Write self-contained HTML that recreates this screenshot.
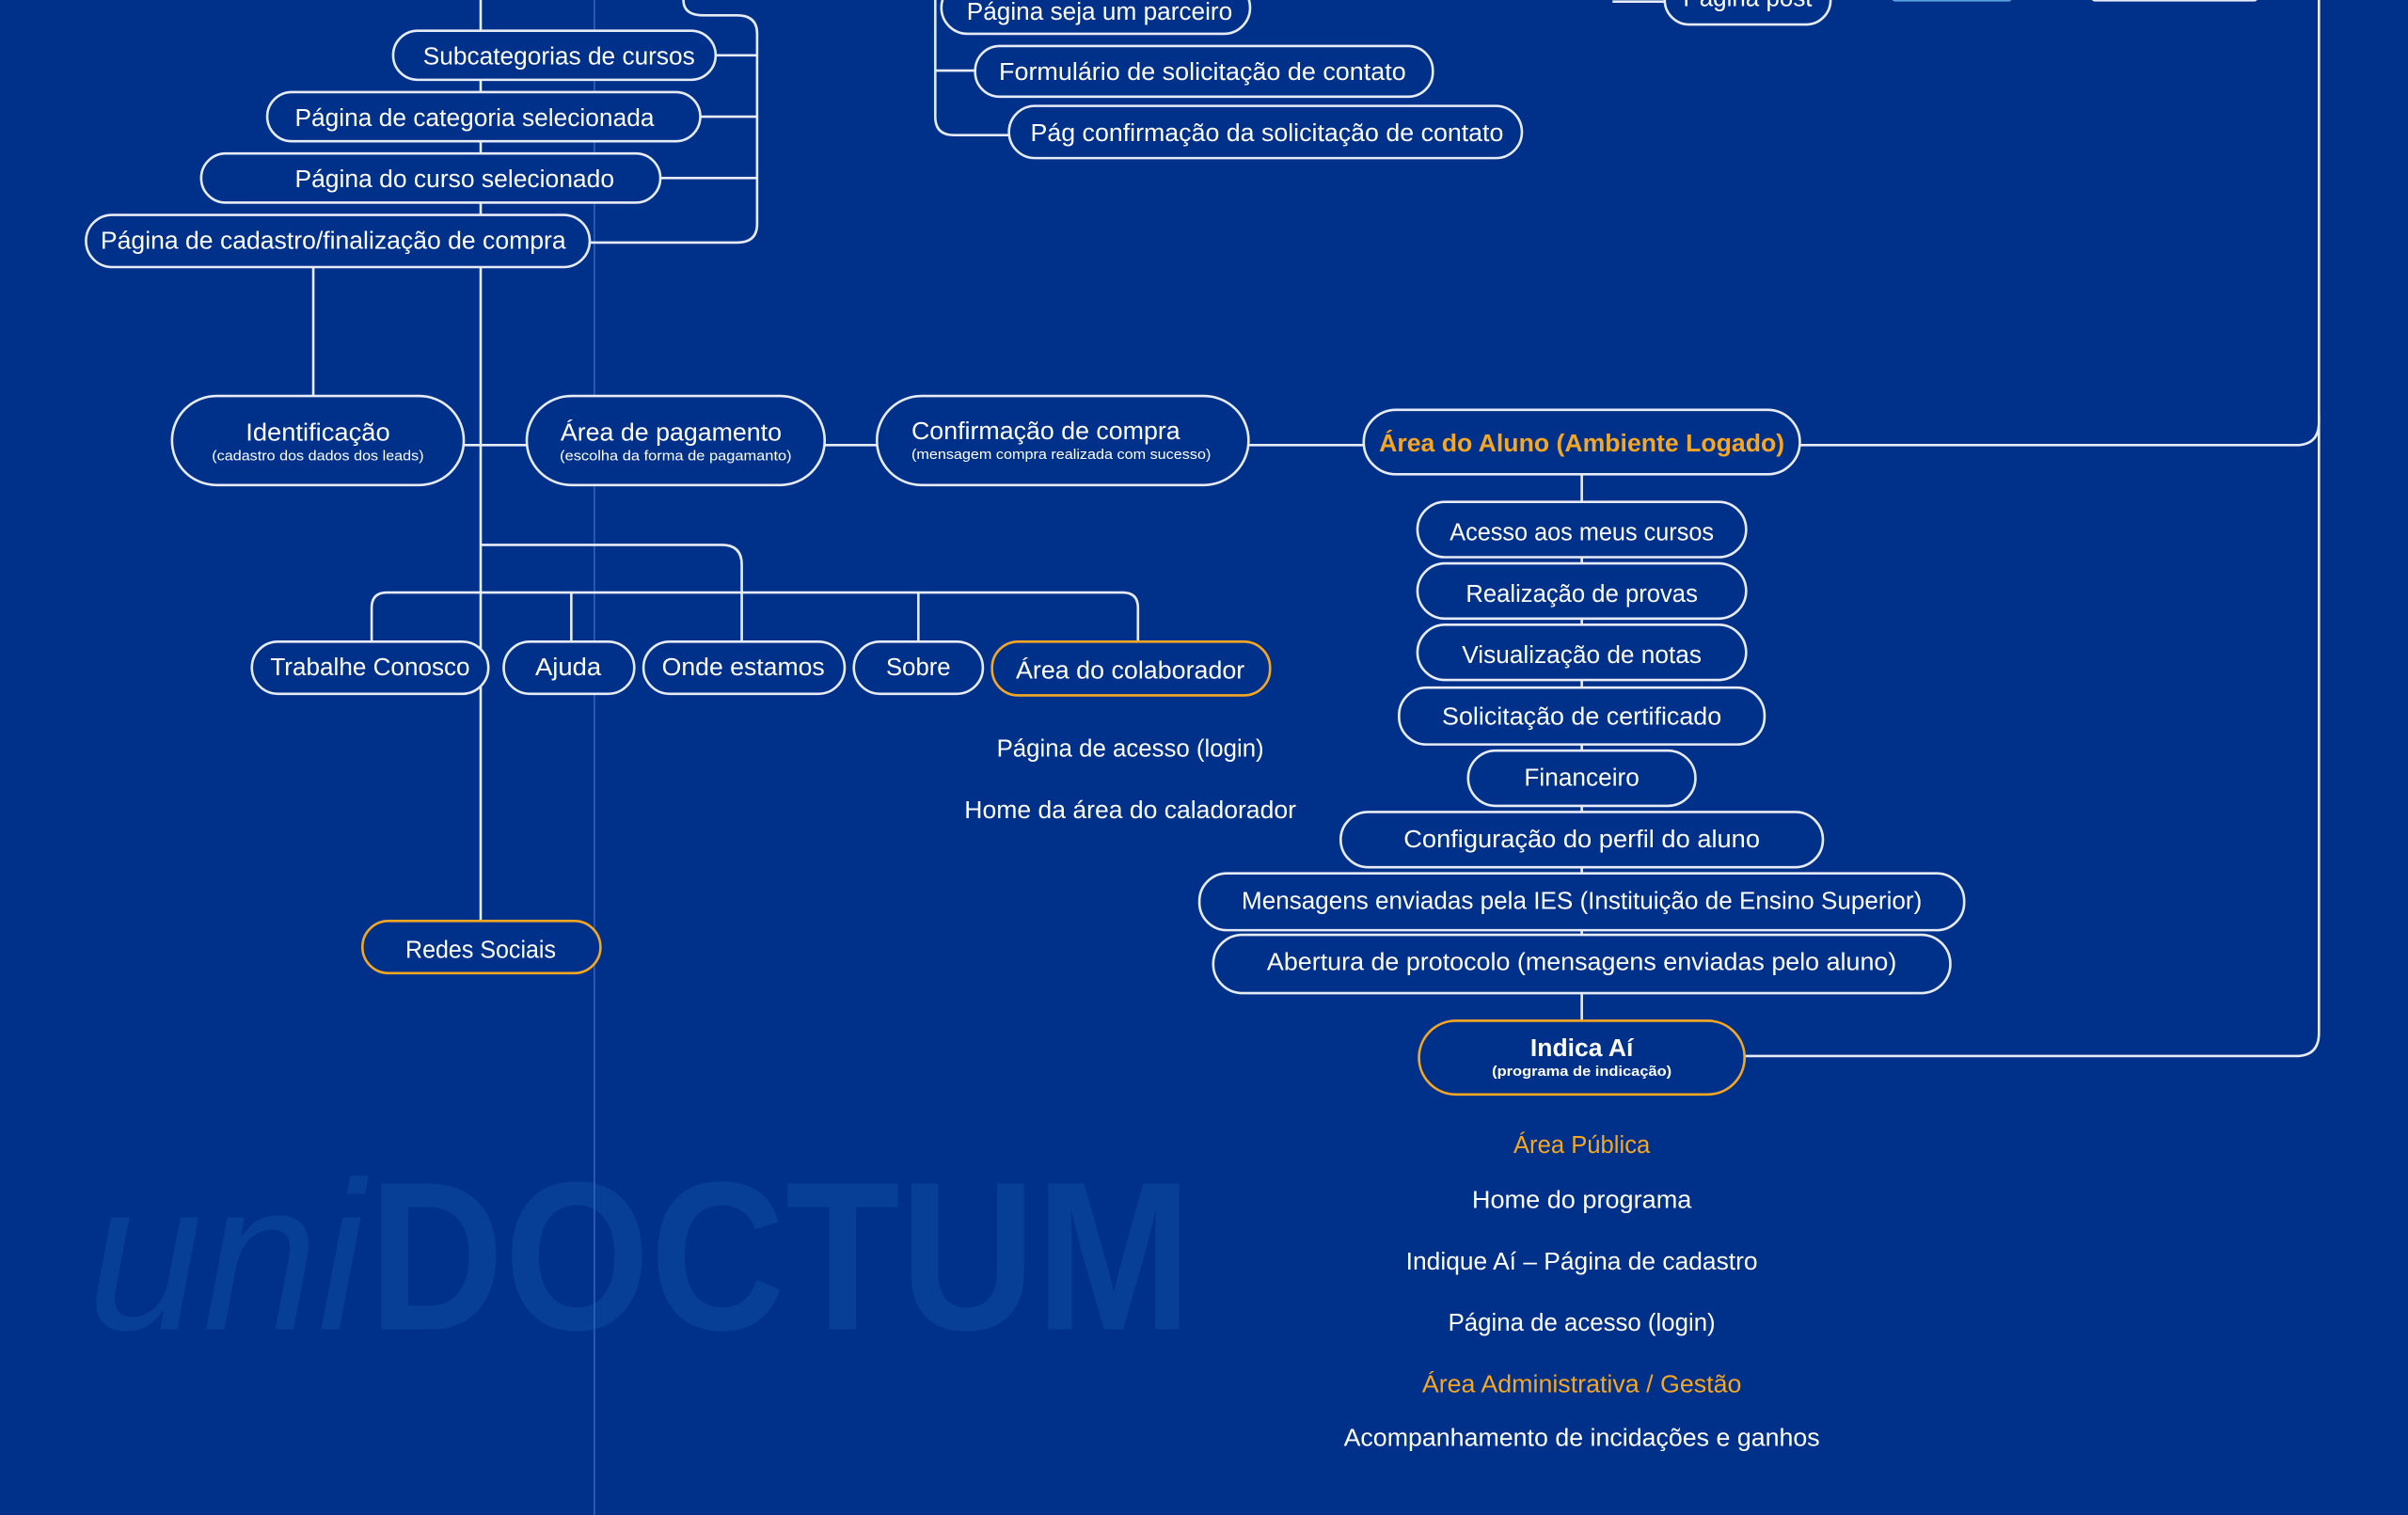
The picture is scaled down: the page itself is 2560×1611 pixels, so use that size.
<!DOCTYPE html>
<html><head><meta charset="utf-8"><style>
html,body{margin:0;padding:0;background:#00318a;}
svg{display:block}
text{font-family:"Liberation Sans",sans-serif;fill:#fff}
</style></head><body>
<svg width="2560" height="1611" viewBox="0 0 1568 987" preserveAspectRatio="none" xmlns="http://www.w3.org/2000/svg">
<rect width="1568" height="987" fill="#00318a"/>
<!-- watermark -->
<text x="57" y="866" font-size="138" font-style="italic" style="fill:#063f95" textLength="180" lengthAdjust="spacingAndGlyphs">uni</text>
<text x="240" y="866" font-size="138" font-weight="bold" style="fill:#063f95" textLength="536" lengthAdjust="spacingAndGlyphs">DOCTUM</text>
<line x1="387" y1="0" x2="387" y2="987" stroke="#2a62b8" stroke-width="1"/>
<g fill="none" stroke="#e6ebf5" stroke-width="1.6">
<!-- left trunk -->
<line x1="313" y1="0" x2="313" y2="600"/>
<path d="M445 0 Q445 10 458 10 L480 10 Q493 10 493 22 L493 146 Q493 158 480 158 L384 158"/>
<line x1="466" y1="36" x2="493" y2="36"/>
<line x1="456" y1="76" x2="493" y2="76"/>
<line x1="430" y1="116" x2="493" y2="116"/>
<line x1="204" y1="174" x2="204" y2="258"/>
<line x1="302" y1="290" x2="343" y2="290"/>
<line x1="537" y1="290" x2="571" y2="290"/>
<line x1="813" y1="290" x2="888" y2="290"/>
<path d="M1172 290 L1495 290 Q1510 290 1510 275 L1510 0"/>
<path d="M1510 270 L1510 673 Q1510 688 1495 688 L1136 688"/>
<path d="M313 355 L470 355 Q483 355 483 368 L483 418"/>
<path d="M242 418 L242 396 Q242 386 252 386 L731 386 Q741 386 741 396 L741 418"/>
<line x1="372" y1="386" x2="372" y2="418"/>
<line x1="598" y1="386" x2="598" y2="418"/>
<!-- right trunk -->
<line x1="1030" y1="309" x2="1030" y2="665"/>
<!-- top middle -->
<path d="M609 0 L609 76 Q609 88 621 88 L657 88"/>
<line x1="609" y1="46" x2="635" y2="46"/>
<line x1="1050" y1="1" x2="1084" y2="1"/>
</g>
<rect x="1232" y="-4" width="78" height="5" rx="2" fill="#5aa0e0"/>
<rect x="1362" y="-4" width="108" height="5" rx="2" fill="#e6ebf5"/>
<g fill="#00318a" stroke="#e6ebf5" stroke-width="1.6">
<rect x="256" y="20" width="210" height="32" rx="16"/>
<rect x="174" y="60" width="282" height="32" rx="16"/>
<rect x="131" y="100" width="299" height="32" rx="16"/>
<rect x="56" y="140" width="328" height="34" rx="17"/>
<rect x="112" y="258" width="190" height="58" rx="29"/>
<rect x="343" y="258" width="194" height="58" rx="29"/>
<rect x="571" y="258" width="242" height="58" rx="29"/>
<rect x="888" y="267" width="284" height="42" rx="21"/>
<rect x="164" y="418" width="154" height="34" rx="17"/>
<rect x="328" y="418" width="85" height="34" rx="17"/>
<rect x="419" y="418" width="131" height="34" rx="17"/>
<rect x="556" y="418" width="84" height="34" rx="17"/>
<rect x="646" y="418" width="181" height="35" rx="17" stroke="#f5a623"/>
<rect x="236" y="600" width="155" height="34" rx="17" stroke="#f5a623"/>
<rect x="613" y="-12" width="201" height="34" rx="17"/>
<rect x="635" y="30" width="298" height="33" rx="16"/>
<rect x="657" y="69" width="334" height="34" rx="17"/>
<rect x="1084" y="-16" width="108" height="32" rx="16"/>
<rect x="923" y="327" width="214" height="36" rx="18"/>
<rect x="923" y="367" width="214" height="36" rx="18"/>
<rect x="923" y="407" width="214" height="36" rx="18"/>
<rect x="911" y="448" width="238" height="37" rx="18"/>
<rect x="956" y="489" width="148" height="36" rx="18"/>
<rect x="873" y="529" width="314" height="36" rx="18"/>
<rect x="781" y="569" width="498" height="37" rx="18"/>
<rect x="790" y="609" width="480" height="38" rx="19"/>
<rect x="924" y="665" width="212" height="48" rx="24" stroke="#f5a623"/>
</g>
<g font-size="16" text-anchor="middle">
<text x="364" y="42" textLength="177" lengthAdjust="spacingAndGlyphs">Subcategorias de cursos</text>
<text x="309" y="82" textLength="234" lengthAdjust="spacingAndGlyphs">Página de categoria selecionada</text>
<text x="296" y="122" textLength="208" lengthAdjust="spacingAndGlyphs">Página do curso selecionado</text>
<text x="217" y="162" textLength="303" lengthAdjust="spacingAndGlyphs">Página de cadastro/finalização de compra</text>
<text x="207" y="287" textLength="94" lengthAdjust="spacingAndGlyphs">Identificação</text>
<text x="207" y="300" font-size="9" textLength="138" lengthAdjust="spacingAndGlyphs">(cadastro dos dados dos leads)</text>
<text x="437" y="287" textLength="144" lengthAdjust="spacingAndGlyphs">Área de pagamento</text>
<text x="440" y="300" font-size="9" textLength="151" lengthAdjust="spacingAndGlyphs">(escolha da forma de pagamanto)</text>
<text x="681" y="286" textLength="175" lengthAdjust="spacingAndGlyphs">Confirmação de compra</text>
<text x="691" y="299" font-size="9" textLength="195" lengthAdjust="spacingAndGlyphs">(mensagem compra realizada com sucesso)</text>
<text x="1030" y="294" font-weight="bold" style="fill:#f5a623" textLength="264" lengthAdjust="spacingAndGlyphs">Área do Aluno (Ambiente Logado)</text>
<text x="241" y="440" textLength="130" lengthAdjust="spacingAndGlyphs">Trabalhe Conosco</text>
<text x="370" y="440" textLength="43" lengthAdjust="spacingAndGlyphs">Ajuda</text>
<text x="484" y="440" textLength="106" lengthAdjust="spacingAndGlyphs">Onde estamos</text>
<text x="598" y="440" textLength="42" lengthAdjust="spacingAndGlyphs">Sobre</text>
<text x="736" y="442" textLength="149" lengthAdjust="spacingAndGlyphs">Área do colaborador</text>
<text x="736" y="493" textLength="174" lengthAdjust="spacingAndGlyphs">Página de acesso (login)</text>
<text x="736" y="533" textLength="216" lengthAdjust="spacingAndGlyphs">Home da área do caladorador</text>
<text x="313" y="624" textLength="98" lengthAdjust="spacingAndGlyphs">Redes Sociais</text>
<text x="716" y="13" textLength="173" lengthAdjust="spacingAndGlyphs">Página seja um parceiro</text>
<text x="783" y="52" textLength="265" lengthAdjust="spacingAndGlyphs">Formulário de solicitação de contato</text>
<text x="825" y="92" textLength="308" lengthAdjust="spacingAndGlyphs">Pág confirmação da solicitação de contato</text>
<text x="1138" y="4" textLength="84" lengthAdjust="spacingAndGlyphs">Página post</text>
<text x="1030" y="352" textLength="172" lengthAdjust="spacingAndGlyphs">Acesso aos meus cursos</text>
<text x="1030" y="392" textLength="151" lengthAdjust="spacingAndGlyphs">Realização de provas</text>
<text x="1030" y="432" textLength="156" lengthAdjust="spacingAndGlyphs">Visualização de notas</text>
<text x="1030" y="472" textLength="182" lengthAdjust="spacingAndGlyphs">Solicitação de certificado</text>
<text x="1030" y="512" textLength="75" lengthAdjust="spacingAndGlyphs">Financeiro</text>
<text x="1030" y="552" textLength="232" lengthAdjust="spacingAndGlyphs">Configuração do perfil do aluno</text>
<text x="1030" y="592" textLength="443" lengthAdjust="spacingAndGlyphs">Mensagens enviadas pela IES (Instituição de Ensino Superior)</text>
<text x="1030" y="632" textLength="410" lengthAdjust="spacingAndGlyphs">Abertura de protocolo (mensagens enviadas pelo aluno)</text>
<text x="1030" y="688" font-weight="bold" textLength="67" lengthAdjust="spacingAndGlyphs">Indica Aí</text>
<text x="1030" y="701" font-size="9" font-weight="bold" textLength="117" lengthAdjust="spacingAndGlyphs">(programa de indicação)</text>
<text x="1030" y="751" style="fill:#f5a623" textLength="89" lengthAdjust="spacingAndGlyphs">Área Pública</text>
<text x="1030" y="787" textLength="143" lengthAdjust="spacingAndGlyphs">Home do programa</text>
<text x="1030" y="827" textLength="229" lengthAdjust="spacingAndGlyphs">Indique Aí – Página de cadastro</text>
<text x="1030" y="867" textLength="174" lengthAdjust="spacingAndGlyphs">Página de acesso (login)</text>
<text x="1030" y="907" style="fill:#f5a623" textLength="208" lengthAdjust="spacingAndGlyphs">Área Administrativa / Gestão</text>
<text x="1030" y="942" textLength="310" lengthAdjust="spacingAndGlyphs">Acompanhamento de incidações e ganhos</text>
</g>
</svg>
</body></html>
